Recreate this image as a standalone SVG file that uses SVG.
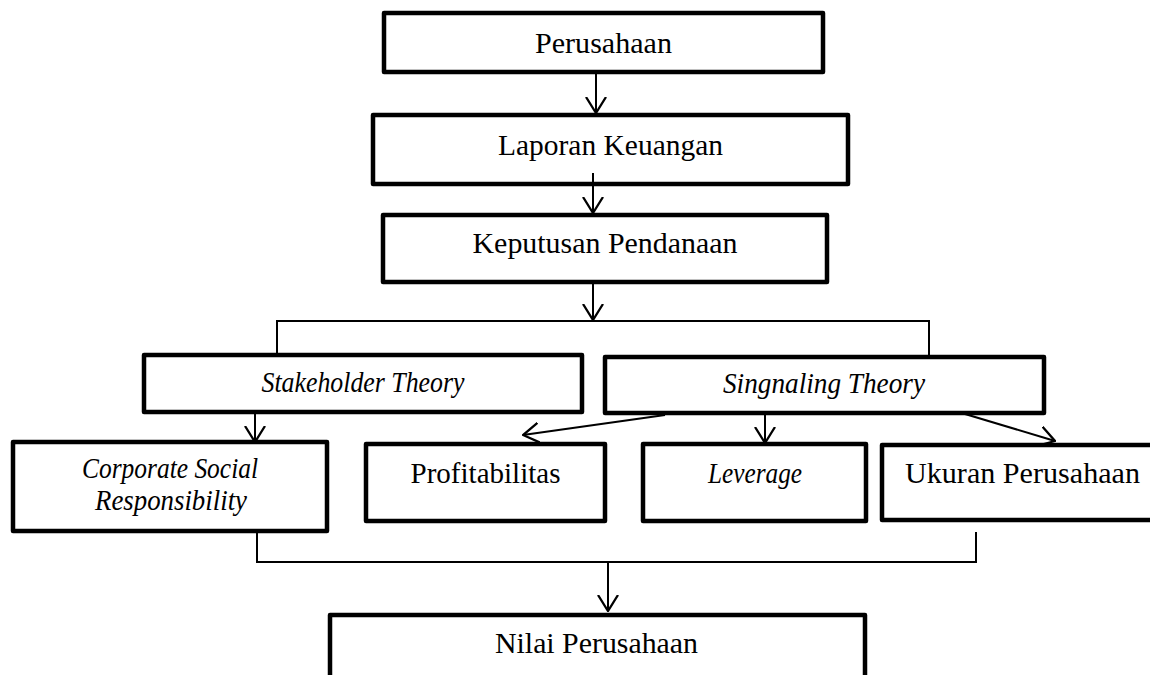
<svg xmlns="http://www.w3.org/2000/svg" width="1150" height="675" viewBox="0 0 1150 675">
<style>
.box{fill:#fff;stroke:#000;stroke-width:4.5;stroke-linejoin:round}
.t{font-family:"Liberation Serif","Times New Roman",serif;font-size:29px;fill:#000}
.i{font-style:italic}
.c{text-anchor:middle}
.ln{fill:none;stroke:#000;stroke-width:2}
.ar{fill:none;stroke:#000;stroke-width:2;marker-end:url(#arr)}
</style>
<defs>
<marker id="arr" viewBox="0 0 17 22" refX="16" refY="11" markerWidth="17" markerHeight="22" markerUnits="userSpaceOnUse" orient="auto">
<path d="M0,1 L16,11 L0,21" fill="none" stroke="#000" stroke-width="2.3"/>
</marker>
</defs>
<rect width="1150" height="675" fill="#fff"/>
<g id="perusahaan">
<rect class="box" x="384" y="13" width="439" height="59"/>
<text class="t c" x="603.5" y="53" textLength="137" lengthAdjust="spacingAndGlyphs">Perusahaan</text>
</g>
<g id="laporan">
<rect class="box" x="373" y="115" width="475" height="69"/>
<text class="t c" x="610.5" y="155" textLength="225" lengthAdjust="spacingAndGlyphs">Laporan Keuangan</text>
</g>
<g id="keputusan">
<rect class="box" x="383" y="215" width="444" height="67"/>
<text class="t c" x="605" y="253" textLength="265" lengthAdjust="spacingAndGlyphs">Keputusan Pendanaan</text>
</g>
<g id="stakeholder">
<rect class="box" x="144" y="355" width="438" height="57"/>
<text class="t i c" x="363" y="392" textLength="203" lengthAdjust="spacingAndGlyphs">Stakeholder Theory</text>
</g>
<g id="signaling">
<rect class="box" x="605" y="357" width="439" height="56"/>
<text class="t i c" x="824" y="393" textLength="202" lengthAdjust="spacingAndGlyphs">Singnaling Theory</text>
</g>
<g id="csr">
<rect class="box" x="13" y="442" width="314" height="89"/>
<text class="t i c" x="170" y="478" textLength="176" lengthAdjust="spacingAndGlyphs">Corporate Social</text>
<text class="t i c" x="171" y="510" textLength="152" lengthAdjust="spacingAndGlyphs">Responsibility</text>
</g>
<g id="profitabilitas">
<rect class="box" x="366" y="444" width="239" height="77"/>
<text class="t c" x="485.5" y="483" textLength="150" lengthAdjust="spacingAndGlyphs">Profitabilitas</text>
</g>
<g id="leverage">
<rect class="box" x="643" y="444" width="223" height="77"/>
<text class="t i c" x="755" y="483" textLength="94" lengthAdjust="spacingAndGlyphs">Leverage</text>
</g>
<g id="ukuran">
<rect class="box" x="882" y="445" width="290" height="75"/>
<text class="t" x="905" y="483" textLength="235" lengthAdjust="spacingAndGlyphs">Ukuran Perusahaan</text>
</g>
<g id="nilai">
<rect class="box" x="330" y="615" width="535" height="80"/>
<text class="t c" x="596.5" y="653" textLength="203" lengthAdjust="spacingAndGlyphs">Nilai Perusahaan</text>
</g>
<g id="connectors">
<line class="ar" x1="596" y1="74" x2="596" y2="113"/>
<line class="ar" x1="593" y1="173" x2="593" y2="213"/>
<line class="ar" x1="593" y1="284" x2="593" y2="320"/>
<polyline class="ln" points="277,353 277,321 929,321 929,355"/>
<line class="ar" x1="255" y1="414" x2="255" y2="442"/>
<line class="ar" x1="665" y1="415" x2="523" y2="435"/>
<line class="ar" x1="765" y1="415" x2="765" y2="443"/>
<line class="ar" x1="965" y1="414" x2="1055" y2="441"/>
<polyline class="ln" points="257,533 257,562 976,562 976,532"/>
<line class="ar" x1="608" y1="562" x2="608" y2="611"/>
</g>
</svg>
